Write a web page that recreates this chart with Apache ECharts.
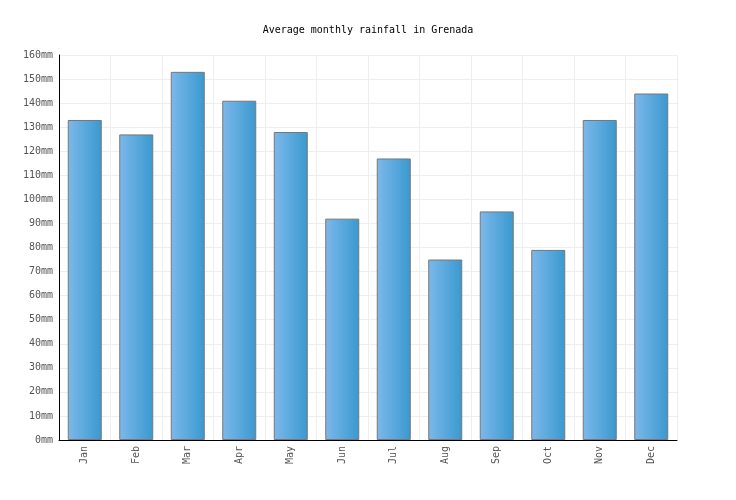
<!DOCTYPE html>
<html><head><meta charset="utf-8">
<script src="https://cdn.jsdelivr.net/npm/echarts@6/dist/echarts.min.js"></script>
<style>html,body{margin:0;padding:0;background:#fff}#c{width:736px;height:500px}</style>
</head><body><div id="c"></div>
<script>
const categories = ['Jan','Feb','Mar','Apr','May','Jun','Jul','Aug','Sep','Oct','Nov','Dec'];
const rainfall = [133,127,153,141,128,92,117,75,95,79,133,144];
const yTicks = {min:0, max:160, interval:10, unit:'mm'};
const title = 'Average monthly rainfall in Grenada';

const chart = echarts.init(document.getElementById('c'));
const font = '"DejaVu Sans Mono", monospace';
chart.setOption({
  animation:false,
  title:{text:title,left:'center',top:20,textStyle:{fontFamily:font,fontSize:10,fontWeight:'normal',color:'#000'}},
  grid:{left:59,right:59,top:55,bottom:60,containLabel:false},
  xAxis:{type:'category',data:categories,
    axisLine:{lineStyle:{color:'#000',width:1}},
    axisTick:{show:false},
    axisLabel:{rotate:90,color:'#555',fontFamily:font,fontSize:10,margin:6},
    splitLine:{show:true,interval:0,lineStyle:{color:'#eeeeee'}}},
  yAxis:{type:'value',min:yTicks.min,max:yTicks.max,interval:yTicks.interval,
    axisLine:{show:true,lineStyle:{color:'#000',width:1}},
    axisTick:{show:false},
    axisLabel:{color:'#555',fontFamily:font,fontSize:10,margin:6,formatter:v=>v+yTicks.unit},
    splitLine:{lineStyle:{color:'#eeeeee'}}},
  series:[{type:'bar',data:rainfall,barWidth:34,
    itemStyle:{borderColor:'#777777',borderWidth:1,
      color:new echarts.graphic.LinearGradient(0,0,1,0,[{offset:0,color:'#7db8eb'},{offset:1,color:'#3999cf'}])}}]
});
</script></body></html>
